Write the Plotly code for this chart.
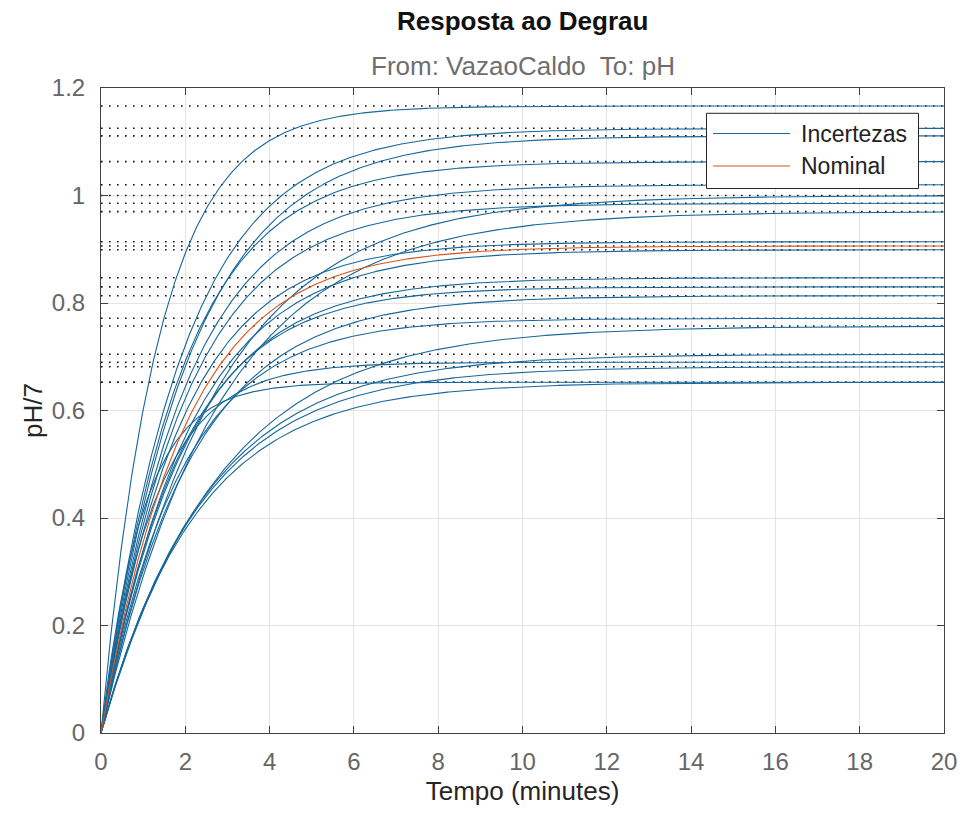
import numpy as np
import plotly.graph_objects as go

# ---- data ----
# steady-state (final) values of the sampled uncertain responses (dotted levels)
gains = [1.1665, 1.125, 1.111, 1.063, 1.020, 1.000, 0.9855, 0.970, 0.914, 0.899,
         0.847, 0.830, 0.8136, 0.7715, 0.7572, 0.7046, 0.6897, 0.6815, 0.6525, 0.6525]
# estimated time constants (minutes) of each first-order response
time_constants = [1.38, 1.95, 2.1, 1.9, 2.0, 2.7, 2.0, 2.8, 1.9, 2.1,
                  2.0, 1.9, 2.15, 1.9, 2.8, 2.5, 1.3, 2.4, 1.0, 2.3]
nominal_gain = 0.906
nominal_tc = 2.0

x_ticks = [0, 2, 4, 6, 8, 10, 12, 14, 16, 18, 20]
y_ticks = [0, 0.2, 0.4, 0.6, 0.8, 1.0, 1.2]
y_tick_text = ["0", "0.2", "0.4", "0.6", "0.8", "1", "1.2"]

legend_labels = ["Incertezas", "Nominal"]

BLUE = "#17679a"
ORANGE = "#D95319"

t = np.linspace(0, 20, 801)

fig = go.Figure()

levels = list(gains) + [nominal_gain]
for K in levels:
    fig.add_trace(go.Scatter(x=[0, 20], y=[K, K], mode="lines",
                             line=dict(color="#111111", width=1.6, dash="1.6px,6.4px"),
                             hoverinfo="skip", showlegend=False))

for K, tau in zip(gains, time_constants):
    fig.add_trace(go.Scatter(x=t, y=K * (1 - np.exp(-t / tau)), mode="lines",
                             line=dict(color=BLUE, width=1.1),
                             showlegend=False))

fig.add_trace(go.Scatter(x=t, y=nominal_gain * (1 - np.exp(-t / nominal_tc)), mode="lines",
                         line=dict(color=ORANGE, width=1.1), showlegend=False))

L, R, T, B = 101, 19, 88, 83
W, H = 963, 816
pw, ph = W - L - R, H - T - B


def px(xp):
    return (xp - L) / pw


def py(yp):
    return (H - B - yp) / ph


shapes = [
    dict(type="rect", xref="paper", yref="paper", x0=px(706.5), x1=px(918.5),
         y0=py(188.5), y1=py(113.3), fillcolor="white",
         line=dict(color="#262626", width=1), layer="above"),
    dict(type="line", xref="paper", yref="paper", x0=px(713), x1=px(790),
         y0=py(133.5), y1=py(133.5), line=dict(color=BLUE, width=1.2), layer="above"),
    dict(type="line", xref="paper", yref="paper", x0=px(713), x1=px(790),
         y0=py(166), y1=py(166), line=dict(color=ORANGE, width=1.2), layer="above"),
]

annotations = [
    dict(text="<b>Resposta ao Degrau</b>", xref="paper", yref="paper", x=0.5, y=py(21),
         xanchor="center", yanchor="middle", showarrow=False,
         font=dict(size=26, color="#111111", family="Liberation Sans, Arial")),
    dict(text="From: VazaoCaldo  To: pH", xref="paper", yref="paper", x=0.5, y=py(66),
         xanchor="center", yanchor="middle", showarrow=False,
         font=dict(size=26, color="#6e6e6e", family="Liberation Sans, Arial")),
    dict(text=legend_labels[0], xref="paper", yref="paper", x=px(799), y=py(134),
         xanchor="left", yanchor="middle", showarrow=False,
         font=dict(size=23, color="#222222", family="Liberation Sans, Arial")),
    dict(text=legend_labels[1], xref="paper", yref="paper", x=px(799), y=py(166),
         xanchor="left", yanchor="middle", showarrow=False,
         font=dict(size=23, color="#222222", family="Liberation Sans, Arial")),
]

axis_common = dict(showgrid=True, gridcolor="#e3e3e3", gridwidth=1,
                   showline=True, linecolor="#404040", linewidth=1, mirror="ticks",
                   ticks="inside", ticklen=7, tickcolor="#404040", zeroline=False,
                   tickfont=dict(size=24, color="#666666", family="Liberation Sans, Arial"))

fig.update_layout(
    width=W, height=H,
    margin=dict(l=L, r=R, t=T, b=B, autoexpand=False),
    paper_bgcolor="white", plot_bgcolor="white",
    showlegend=False,
    xaxis=dict(range=[0, 20], tickvals=x_ticks, ticktext=[str(v) for v in x_ticks],
               ticklabelstandoff=7,
               title=dict(text="Tempo (minutes)", standoff=8,
                          font=dict(size=26, color="#262626", family="Liberation Sans, Arial")),
               **axis_common),
    yaxis=dict(range=[0, 1.2], tickvals=y_ticks, ticktext=y_tick_text,
               ticklabelstandoff=10,
               title=dict(text="pH/7", standoff=1,
                          font=dict(size=26, color="#262626", family="Liberation Sans, Arial")),
               **axis_common),
    shapes=shapes,
    annotations=annotations,
)

fig.write_html("out.html")
